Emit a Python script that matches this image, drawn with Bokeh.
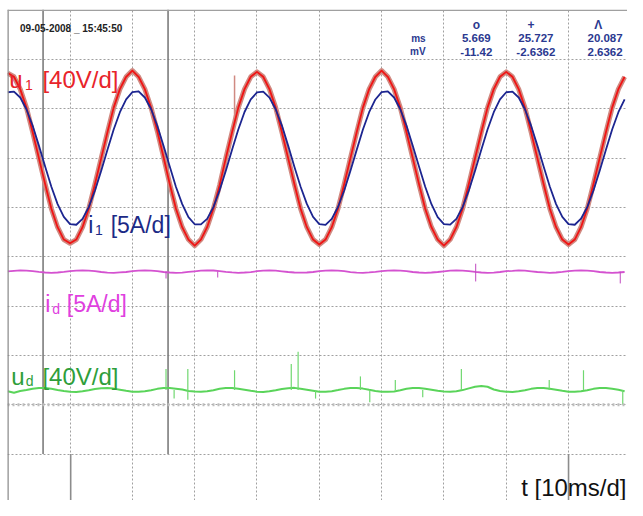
from bokeh.plotting import figure
from bokeh.models import Range1d, Grid, FixedTicker, Span, Label
from bokeh.embed import file_html
from bokeh.resources import INLINE

# ---------------- data ----------------
t_ms = list(range(0, 100))  # sample instants, 1 ms apart

u1_V = [69, 66, 56, 41, 21, 0, -21, -41, -56, -66, -69, -66, -56, -41, -21, 0, 21, 41, 56, 66,
        71, 66, 56, 41, 22, 1, -21, -41, -56, -66, -71, -66, -56, -41, -22, 0, 21, 41, 56, 66,
        70, 66, 56, 41, 21, 0, -21, -41, -56, -66, -70, -66, -56, -41, -21, 0, 21, 41, 56, 66,
        71, 66, 56, 41, 21, 0, -21, -41, -56, -66, -71, -66, -56, -41, -21, 0, 21, 41, 56, 66,
        70, 66, 56, 41, 21, 0, -21, -41, -56, -66, -70, -66, -56, -41, -21, 0, 21, 41, 56, 66]

i1_A = [6.68, 6.75, 6.15, 4.96, 3.28, 1.27, -0.85, -2.90, -4.66, -5.96, -6.68, -6.75, -6.15, -4.96, -3.28, -1.27, 0.85, 2.90, 4.66, 5.96,
        6.70, 6.78, 6.15, 4.98, 3.28, 1.25, -0.85, -2.92, -4.66, -5.98, -6.70, -6.72, -6.15, -4.96, -3.26, -1.27, 0.85, 2.90, 4.68, 5.96,
        6.66, 6.74, 6.14, 4.96, 3.30, 1.27, -0.86, -2.90, -4.64, -5.96, -6.68, -6.76, -6.16, -4.95, -3.28, -1.28, 0.84, 2.90, 4.66, 5.95,
        6.70, 6.76, 6.15, 4.96, 3.28, 1.26, -0.85, -2.90, -4.67, -5.97, -6.69, -6.74, -6.15, -4.97, -3.28, -1.27, 0.86, 2.91, 4.66, 5.96,
        6.68, 6.75, 6.15, 4.96, 3.27, 1.27, -0.85, -2.90, -4.66, -5.96, -6.68, -6.75, -6.14, -4.96, -3.28, -1.27, 0.85, 2.90, 4.66, 5.96]

id_A = [13.52, 13.58, 13.62, 13.60, 13.54, 13.47, 13.41, 13.38, 13.41, 13.47,
        13.55, 13.60, 13.63, 13.59, 13.54, 13.46, 13.40, 13.38, 13.42, 13.46,
        13.54, 13.59, 13.61, 13.60, 13.55, 13.46, 13.41, 13.37, 13.40, 13.47,
        13.53, 13.59, 13.62, 13.61, 13.54, 13.47, 13.42, 13.38, 13.41, 13.45,
        13.54, 13.60, 13.63, 13.59, 13.53, 13.46, 13.41, 13.39, 13.41, 13.46,
        13.55, 13.59, 13.62, 13.60, 13.54, 13.45, 13.40, 13.38, 13.42, 13.47,
        13.54, 13.60, 13.62, 13.60, 13.55, 13.46, 13.41, 13.37, 13.41, 13.46,
        13.53, 13.59, 13.61, 13.59, 13.54, 13.47, 13.41, 13.38, 13.40, 13.46,
        13.54, 13.58, 13.63, 13.60, 13.53, 13.46, 13.42, 13.38, 13.41, 13.47,
        13.55, 13.59, 13.62, 13.60, 13.54, 13.46, 13.41, 13.38, 13.41, 13.46]

ud_V = [90.9, 89.8, 91.2, 91.9, 93.0, 93.6, 93.5, 92.9, 92.0, 91.2,
        90.6, 90.4, 90.9, 91.8, 92.8, 93.4, 93.6, 93.1, 92.2, 91.3,
        90.5, 90.6, 91.0, 91.8, 92.9, 93.5, 93.5, 93.0, 92.3, 91.2,
        90.7, 90.5, 90.9, 91.7, 93.0, 93.6, 93.6, 92.9, 92.1, 91.3,
        90.6, 90.4, 90.9, 91.8, 92.8, 93.4, 93.7, 93.0, 92.2, 91.4,
        90.5, 90.6, 91.0, 91.9, 92.9, 93.5, 93.5, 93.1, 92.1, 91.2,
        90.6, 90.5, 90.8, 91.8, 93.0, 93.5, 93.6, 92.9, 92.2, 91.3,
        90.7, 90.5, 90.9, 91.9, 93.3, 94.6, 95.2, 94.6, 92.4, 91.2,
        90.6, 90.4, 90.9, 91.8, 92.9, 93.6, 93.5, 93.0, 92.2, 91.3,
        90.5, 90.6, 91.0, 91.7, 92.9, 93.5, 93.6, 93.0, 92.1, 91.0]

# short glitches (time, low, high)
ud_spike_t = [25.4, 26.7, 28.9, 36.4, 45.5, 46.6, 49.4, 56.6, 58.1, 62.2, 66.6, 72.8, 86.9, 92.4, 98.7]
ud_spike_lo = [92, 85, 84, 92, 92, 92, 85, 92, 82, 92, 86, 92, 92, 92, 80]
ud_spike_hi = [109, 92, 109, 108, 113, 123, 92, 103, 92, 100, 92, 109, 100, 108, 92]

id_spike_t = [25.4, 33.7, 75.1, 98.3]
id_spike_lo = [12.8, 12.9, 12.5, 12.3]
id_spike_hi = [13.5, 13.5, 14.3, 13.5]

u1_spike_t = [36.4]
u1_spike_lo = [30]
u1_spike_hi = [67]

# cursor read-outs
cursor_t = [5.669, 25.727]
marker_t = [10.1, 90.0]
readout_heads = ["o", "+", "\u039b"]
readout_ms = ["5.669", "25.727", "20.087"]
readout_mV = ["-11.42", "-2.6362", "2.6362"]
timestamp = "09-05-2008 _ 15:45:50"

# channel settings: (offset in divisions, units per division)
ch = {"u1": (7.0, 40.0), "i1": (7.0, 5.0), "id": (2.0, 5.0), "ud": (0.0, 40.0)}

# ---------------- figure ----------------
W, H = 627, 500
SX, SY = W / 643, H / 516          # reference-picture px -> figure px
PX_MS = 6.39 * SX                  # 64 ref px per 10 ms division
PX_DIV = 50.9 * SY                 # ref px per vertical division
BL, BT = 7, 9                      # frame offset in figure px
X0 = -0.04
X1 = X0 + (W - BL) / PX_MS
Y1 = 10 + (10 * SY - BT) / PX_DIV
Y0 = Y1 - (H - BT) / PX_DIV

p = figure(width=W, height=H, output_backend="svg", toolbar_location=None,
           x_range=Range1d(X0, X1), y_range=Range1d(Y0, Y1),
           x_axis_location=None, y_axis_location=None,
           min_border_left=BL, min_border_right=0, min_border_top=BT, min_border_bottom=0,
           outline_line_color=None, background_fill_color="white", border_fill_color="white")
p.grid.visible = False

p.extra_y_ranges = {name: Range1d((Y0 - off) * sc, (Y1 - off) * sc) for name, (off, sc) in ch.items()}

grid_style = dict(grid_line_color="#a0a0a0", grid_line_dash="2 2", grid_line_width=1)
p.add_layout(Grid(dimension=0, ticker=FixedTicker(ticks=list(range(10, 100, 10))), **grid_style))
p.add_layout(Grid(dimension=1, ticker=FixedTicker(ticks=list(range(1, 10))), **grid_style))

# ticked reference line
p.add_layout(Span(location=2, dimension="width", line_color="#bdbdbd", line_width=3, line_dash="2 3"))
# frame edges
p.add_layout(Span(location=0, dimension="height", line_color="#8c8c8c", line_width=2))
p.add_layout(Span(location=10, dimension="width", line_color="#a0a0a0", line_width=1.5))

# cursors and markers
p.segment(x0=cursor_t, y0=1, x1=cursor_t, y1=Y1, line_color="#7c7c7c", line_width=1.6)
p.segment(x0=marker_t, y0=Y0, x1=marker_t, y1=1, line_color="#8c8c8c", line_width=1.6)

# traces
p.line(t_ms, ud_V, y_range_name="ud", line_color="#5ad45a", line_width=2)
p.segment(x0=ud_spike_t, y0=ud_spike_lo, x1=ud_spike_t, y1=ud_spike_hi, y_range_name="ud",
          line_color="#70d870", line_width=1.2)
p.line(t_ms, id_A, y_range_name="id", line_color="#d452d0", line_width=1.8)
p.segment(x0=id_spike_t, y0=id_spike_lo, x1=id_spike_t, y1=id_spike_hi, y_range_name="id",
          line_color="#c048c0", line_width=1)
p.line(t_ms, u1_V, y_range_name="u1", line_color="#d08a82", line_width=5, line_join="round")
p.segment(x0=u1_spike_t, y0=u1_spike_lo, x1=u1_spike_t, y1=u1_spike_hi, y_range_name="u1",
          line_color="#d08a82", line_width=1.5)
p.line(t_ms, u1_V, y_range_name="u1", line_color="#f01414", line_width=1.8, line_join="round")
p.line(t_ms, i1_A, y_range_name="i1", line_color="#1c2590", line_width=1.8, line_join="round")


def lab(text, rx, ry, size, color, align="left", style="normal"):
    """Place a label given reference-picture pixel coords (baseline)."""
    fx, fy = rx * SX, ry * SY
    p.add_layout(Label(x=(fx - BL) / PX_MS + X0, y=Y1 - (fy - BT) / PX_DIV, text=text,
                       text_font="Liberation Sans", text_font_size=f"{size}px",
                       text_font_style=style, text_color=color,
                       text_align=align, text_baseline="alphabetic"))


FS = 24
SUB = 14
# channel labels
lab("u", 9, 82, FS, "#e8242a")
lab("1", 25, 87, SUB, "#e8242a")
lab("[40V/d]", 43, 82, FS, "#e8242a")

lab("i", 90, 232, 23, "#1c2a86")
lab("1", 97, 237, SUB, "#1c2a86")
lab("[5A/d]", 113, 232, 23, "#1c2a86")

lab("i", 46, 313, 23, "#e040e0")
lab("d", 53, 318, SUB, "#e040e0")
lab("[5A/d]", 68, 313, 23, "#e040e0")

lab("u", 11, 388, FS, "#2e9e3a")
lab("d", 26, 393, SUB, "#2e9e3a")
lab("[40V/d]", 43, 388, FS, "#2e9e3a")

lab("t [10ms/d]", 642, 503, FS, "#111111", align="right")

# header texts
lab(timestamp, 20, 29, 10, "#222222", style="bold")
NAVY = "#2b3990"
lab("ms", 436, 39, 10, NAVY, align="right", style="bold")
lab("mV", 436, 53, 10, NAVY, align="right", style="bold")
for head, ms, mv, xc, xh in zip(readout_heads, readout_ms, readout_mV, [488, 549, 620], [488, 544, 613]):
    lab(head, xh, 25, 12, NAVY, align="center", style="bold")
    lab(ms, xc, 39, 11.5, NAVY, align="center", style="bold")
    lab(mv, xc, 53, 11.5, NAVY, align="center", style="bold")

open("out.html", "w").write(file_html(p, INLINE))
